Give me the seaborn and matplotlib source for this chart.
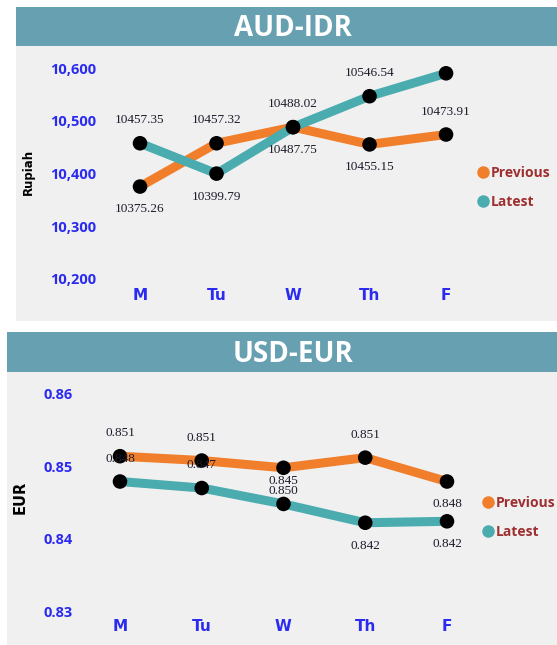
import matplotlib
matplotlib.use("Agg")
import matplotlib.pyplot as plt
from matplotlib.patches import Rectangle
from matplotlib.lines import Line2D
import pandas as pd
import seaborn as sns

# %% data
days = ["M", "Tu", "W", "Th", "F"]

aud_previous = [10375.26, 10457.32, 10488.02, 10455.15, 10473.91]
aud_latest = [10457.35, 10399.79, 10487.75, 10546.54, 10590.00]
aud_ticks = [10200, 10300, 10400, 10500, 10600]

eur_previous = [0.8514, 0.8508, 0.8498, 0.8512, 0.8479]
eur_latest = [0.8479, 0.8470, 0.8448, 0.8422, 0.8424]
eur_ticks = [0.83, 0.84, 0.85, 0.86]

# label side for each point: 1 above, -1 below, 0 none
aud_prev_side = [-1, 1, 1, -1, 1]
aud_late_side = [1, -1, -1, 1, 0]
eur_prev_side = [1, 1, -1, 1, -1]
eur_late_side = [1, 1, 1, -1, -1]

# %% style
W, H = 557, 645
BG = "#f0f0f0"
BAR = "#67a0b0"
ORANGE = "#f07e2a"
TEAL = "#4aacaf"
BLUE = "#2b2bf0"
LEG = "#9e2f30"

sns.set_theme(style="white")
plt.rcParams["font.family"] = ["DejaVu Sans"]


def rect(x0, y0, x1, y1):
    return [x0 / W, 1 - y1 / H, (x1 - x0) / W, (y1 - y0) / H]


fig = plt.figure(figsize=(W / 100, H / 100), dpi=100)
fig.patch.set_facecolor("white")


def panel(x0, y0, bar_y1, y1, title):
    fig.patches.append(Rectangle((x0 / W, 1 - y1 / H), (W - x0) / W, (y1 - y0) / H,
                                 transform=fig.transFigure, facecolor=BG, edgecolor="none", zorder=-3))
    fig.patches.append(Rectangle((x0 / W, 1 - bar_y1 / H), (W - x0) / W, (bar_y1 - y0) / H,
                                 transform=fig.transFigure, facecolor=BAR, edgecolor="none", zorder=-2))
    fig.text(293 / W, 1 - ((y0 + bar_y1) / 2 + 2) / H, title, ha="center", va="center",
             color="white", fontsize=20, fontweight="bold", family="Open Sans")


def chart(ax, prev, late, prev_side, late_side, fmt, ticks, tickfmt, xlim, ylim, ypad, xpad):
    df = pd.DataFrame({"day": days * 2,
                       "rate": prev + late,
                       "series": ["Previous"] * len(days) + ["Latest"] * len(days)})
    sns.lineplot(data=df, x="day", y="rate", hue="series", sort=False,
                 palette={"Previous": ORANGE, "Latest": TEAL}, linewidth=6.5,
                 legend=False, ax=ax, zorder=2, solid_capstyle="round")
    sns.scatterplot(data=df, x="day", y="rate", color="black", s=110,
                    edgecolor="none", legend=False, ax=ax, zorder=3, clip_on=False)
    for vals, sides in [(prev, prev_side), (late, late_side)]:
        for i, (v, s) in enumerate(zip(vals, sides)):
            if s == 0:
                continue
            ax.annotate(fmt.format(v), (i, v), xytext=(0, 16.5 * s), textcoords="offset points",
                        ha="center", va="center", fontsize=9.5, color="#1c1c2c",
                        family="Liberation Serif", zorder=4)
    ax.set_xlim(*xlim)
    ax.set_ylim(*ylim)
    ax.set_yticks(ticks)
    ax.set_yticklabels([tickfmt.format(t) for t in ticks])
    ax.set_xticks(range(len(days)))
    ax.set_xticklabels(days)
    ax.set_xlabel("")
    ax.set_ylabel("")
    ax.set_facecolor("none")
    sns.despine(ax=ax, left=True, bottom=True)
    ax.tick_params(axis="y", length=0, pad=ypad, labelcolor=BLUE)
    ax.tick_params(axis="x", length=0, pad=xpad, labelcolor=BLUE)
    for t in ax.get_yticklabels():
        t.set_fontfamily("Open Sans")
        t.set_fontweight("bold")
        t.set_fontsize(10.5)
    for t in ax.get_xticklabels():
        t.set_fontweight("bold")
        t.set_fontsize(11)


def legend(ax, x_px, y_px):
    handles = [Line2D([], [], marker="o", linestyle="none", markersize=9,
                      markerfacecolor=c, markeredgecolor="none") for c in (ORANGE, TEAL)]
    leg = ax.legend(handles, ["Previous", "Latest"], loc="upper left",
                    bbox_to_anchor=(x_px / W, 1 - y_px / H), bbox_transform=fig.transFigure,
                    frameon=False, handlelength=0.8, handletextpad=0.2, borderpad=0,
                    labelspacing=1.05, prop={"family": "Open Sans", "weight": "bold", "size": 10})
    for t in leg.get_texts():
        t.set_color(LEG)


# %% AUD-IDR
panel(16, 7, 46, 321, "AUD-IDR")
ax1 = fig.add_axes(rect(100, 58, 480, 284))
chart(ax1, aud_previous, aud_latest, aud_prev_side, aud_late_side, "{:.2f}",
      aud_ticks, "{:,.0f}", (-0.523, 4.444), (10190.5, 10619), 3, 3)
legend(ax1, 470, 159)
fig.text(28 / W, 1 - 172 / H, "Rupiah", rotation=90, ha="center", va="center",
         fontsize=8.5, fontweight="bold", color="black")

# %% USD-EUR
panel(7, 332, 372, 645, "USD-EUR")
ax2 = fig.add_axes(rect(80, 384, 485, 616))
chart(ax2, eur_previous, eur_latest, eur_prev_side, eur_late_side, "{:.3f}",
      eur_ticks, "{:.2f}", (-0.489, 4.465), (0.82931, 0.86138), 5, 2.5)
legend(ax2, 475, 489)
fig.text(20 / W, 1 - 497 / H, "EUR", rotation=90, ha="center", va="center",
         fontsize=10.5, fontweight="bold", color="black")

fig.savefig("out.png", dpi=100, facecolor=fig.get_facecolor())
